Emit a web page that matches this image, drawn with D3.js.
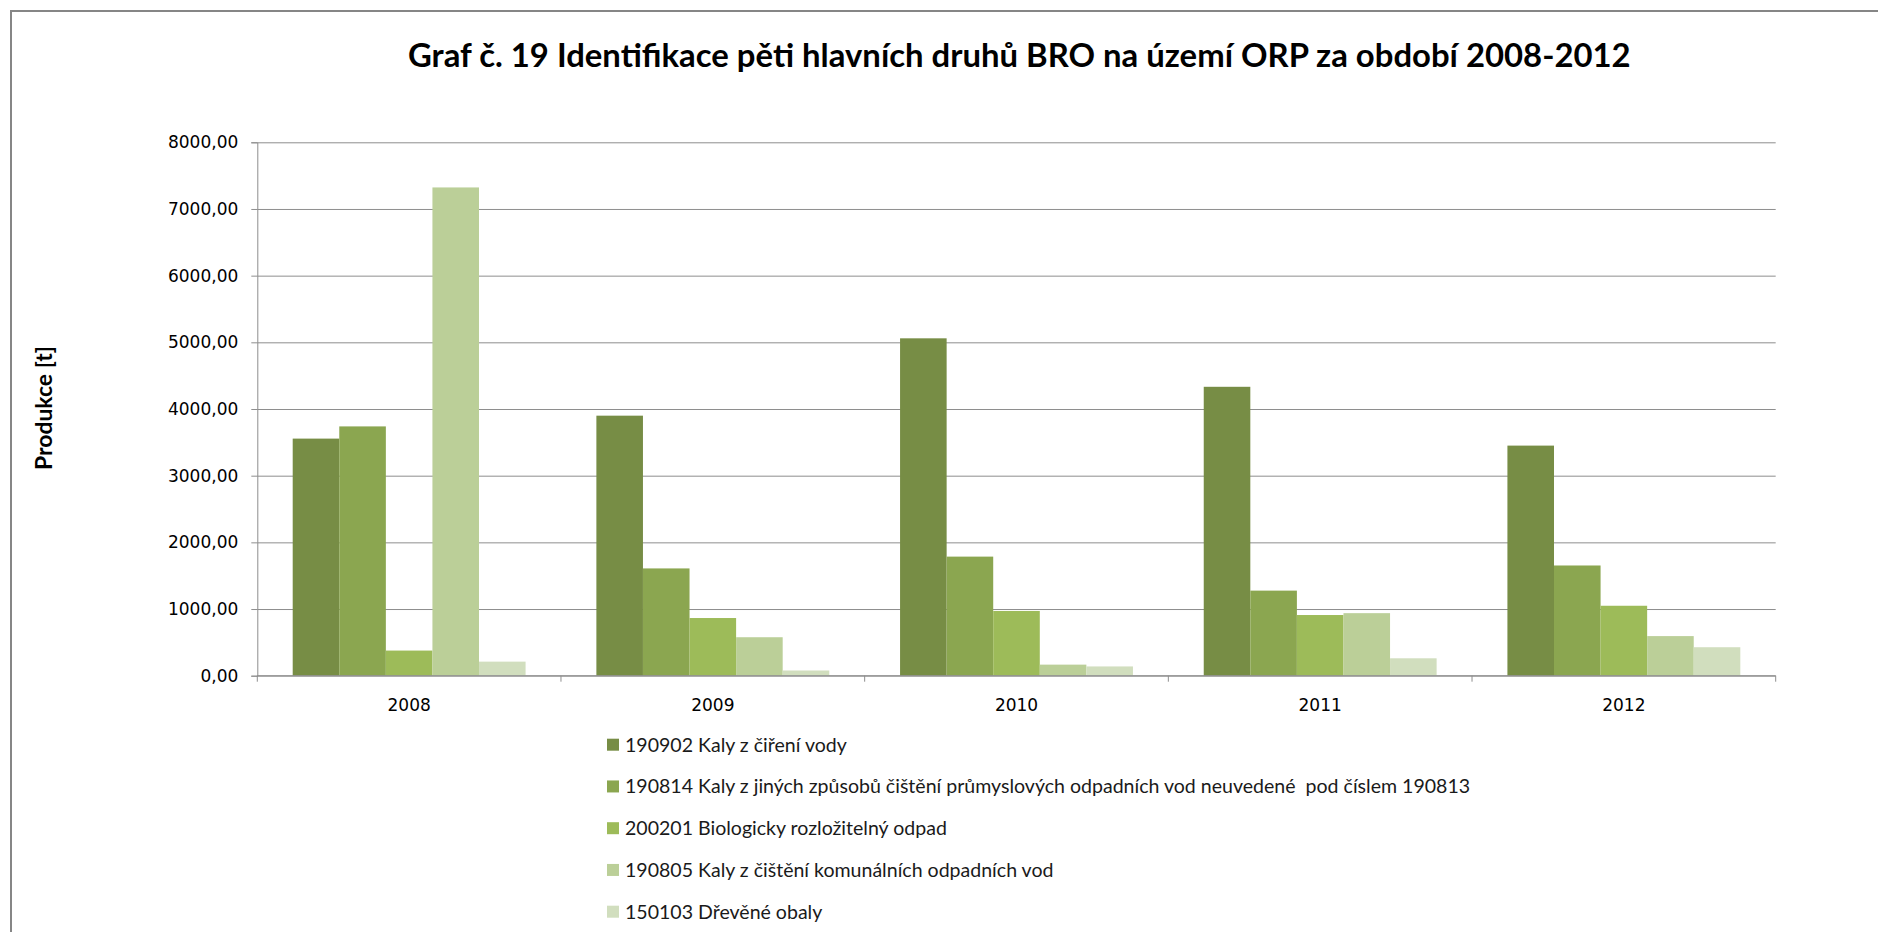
<!DOCTYPE html>
<html>
<head>
<meta charset="utf-8">
<script src="https://cdn.jsdelivr.net/npm/d3@7"></script>
<style>
  body { margin: 0; background: #fff; }
  svg { display: block; }
</style>
</head>
<body>
<svg id="chart" width="1878" height="932"></svg>
<script>
// Graf č. 19 - pět hlavních druhů BRO, 2008-2012

const years = ["2008", "2009", "2010", "2011", "2012"];

const seriesNames = [
    "190902 Kaly z čiření vody",
    "190814 Kaly z jiných způsobů čištění průmyslových odpadních vod neuvedené  pod číslem 190813",
    "200201 Biologicky rozložitelný odpad",
    "190805 Kaly z čištění komunálních odpadních vod",
    "150103 Dřevěné obaly"
];

// hodnoty v tunách, po letech
const kaly190902 = [3556, 3900, 5060, 4333, 3451];
const kaly190814 = [3739, 1609, 1786, 1276, 1653];
const bio200201  = [377, 865, 971, 910, 1049];
const kaly190805 = [7323, 577, 166, 938, 594];
const obaly150103 = [211, 78, 139, 261, 427];

const seriesValues = [kaly190902, kaly190814, bio200201, kaly190805, obaly150103];
const colors = ["#778d45", "#8ba650", "#9dbb59", "#bbcf98", "#d1debe"];

const yTicks = [0, 1000, 2000, 3000, 4000, 5000, 6000, 7000, 8000];

const svg = d3.select("#chart");

// rámeček grafu (pravý a spodní okraj je mimo obrázek)
svg.append("path")
    .attr("d", "M11,932 L11,11 L1878,11")
    .attr("fill", "none")
    .attr("stroke", "#868686")
    .attr("stroke-width", 2);

const margin = {left: 257.3, top: 142.3, right: 1775.7, bottom: 675.7};
const W = margin.right - margin.left;
const H = margin.bottom - margin.top;

const g = svg.append("g").attr("transform", `translate(${margin.left},${margin.top})`);

const x0 = d3.scaleBand().domain(years).range([0, W]).padding(0);
const x1 = d3.scaleBand().domain(d3.range(seriesNames.length))
    .range([0, x0.bandwidth()]).paddingInner(0).paddingOuter(0.76);
const y = d3.scaleLinear().domain([0, 8000]).range([H, 0]);

const locale = d3.formatLocale({decimal: ",", thousands: "", grouping: [3], currency: ["", ""]});
const fmt = locale.format(".2f");

// mřížka
g.append("g")
    .attr("class", "grid")
    .call(d3.axisLeft(y).tickValues(yTicks).tickSize(-W).tickFormat(""))
    .call(s => s.select(".domain").remove())
    .call(s => s.selectAll("line").attr("stroke", "#8e8e8e").attr("stroke-width", 1));

// sloupce
const rows = [];
years.forEach((yr, i) => {
    seriesValues.forEach((vals, j) => rows.push({year: yr, s: j, v: vals[i]}));
});

g.selectAll(".bar")
    .data(rows)
    .enter()
    .append("rect")
    .attr("class", "bar")
    .attr("x", d => x0(d.year) + x1(d.s))
    .attr("y", d => y(d.v))
    .attr("width", x1.bandwidth())
    .attr("height", d => H - y(d.v))
    .attr("fill", d => colors[d.s]);

// osa y
g.append("g")
    .call(d3.axisLeft(y).tickValues(yTicks).tickSize(6).tickPadding(13).tickFormat(fmt))
    .call(s => s.select(".domain").attr("stroke", "#8e8e8e"))
    .call(s => s.selectAll("line").attr("stroke", "#8e8e8e"))
    .call(s => s.selectAll("text")
        .attr("font-family", "DejaVu Sans, Verdana, sans-serif")
        .attr("font-size", "17px")
        .attr("fill", "#000"));

// osa x
const xAxis = g.append("g").attr("transform", `translate(0,${H})`);
xAxis.call(d3.axisBottom(x0).tickSize(0).tickPadding(23))
    .call(s => s.select(".domain").remove())
    .call(s => s.selectAll("text")
        .attr("font-family", "DejaVu Sans, Verdana, sans-serif")
        .attr("font-size", "17px")
        .attr("fill", "#000"));

xAxis.append("line")
    .attr("x1", 0).attr("x2", W)
    .attr("stroke", "#8e8e8e");

const boundaries = years.map(d => x0(d)).concat([W]);
xAxis.selectAll(".xtick")
    .data(boundaries)
    .enter()
    .append("line")
    .attr("class", "xtick")
    .attr("x1", d => d).attr("x2", d => d)
    .attr("y1", 0).attr("y2", 6)
    .attr("stroke", "#8e8e8e");

// přizpůsobení velikosti písma na cílovou šířku
function fitText(sel, target, size) {
    sel.attr("font-size", size + "px");
    const len = sel.node().getComputedTextLength();
    const s = size * target / len;
    sel.attr("font-size", s + "px");
    return s;
}

const title = svg.append("text")
    .attr("x", 408)
    .attr("y", 67)
    .attr("font-family", "Lato, Carlito, sans-serif")
    .attr("font-weight", "bold")
    .attr("fill", "#000")
    .text("Graf č. 19 Identifikace pěti hlavních druhů BRO na území ORP za období 2008-2012");
fitText(title, 1223, 26);

const yLabel = svg.append("text")
    .attr("transform", "translate(52,408) rotate(-90)")
    .attr("text-anchor", "middle")
    .attr("font-family", "Lato, Carlito, sans-serif")
    .attr("font-weight", "bold")
    .attr("fill", "#000")
    .text("Produkce [t]");
fitText(yLabel, 124, 19);

// legenda
const legend = svg.append("g").attr("transform", "translate(607,744.7)");
const items = legend.selectAll(".item")
    .data(seriesNames)
    .enter()
    .append("g")
    .attr("class", "item")
    .attr("transform", (d, i) => `translate(0,${i * 41.75})`);

items.append("rect")
    .attr("x", 0).attr("y", -6)
    .attr("width", 12).attr("height", 12)
    .attr("fill", (d, i) => colors[i]);

items.append("text")
    .attr("x", 18)
    .attr("dy", "0.35em")
    .attr("font-family", "Lato, Carlito, sans-serif")
    .attr("fill", "#1a1a1a")
    .style("white-space", "pre")
    .text(d => d);

const legendSize = fitText(items.filter((d, i) => i === 1).select("text"), 846, 18);
items.selectAll("text").attr("font-size", legendSize + "px");
</script>
</body>
</html>
